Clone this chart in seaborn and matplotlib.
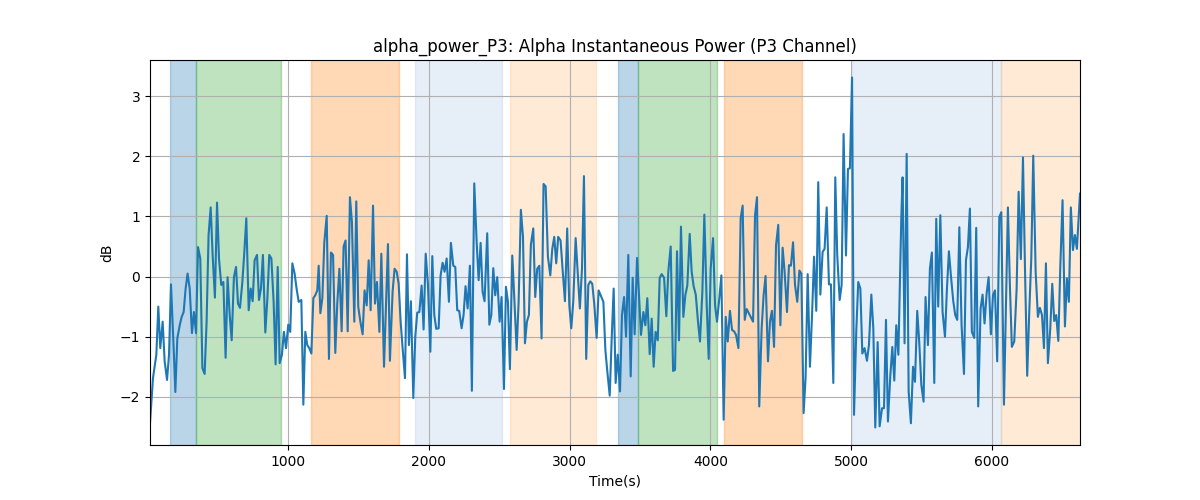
import matplotlib
matplotlib.use("Agg")
import matplotlib.pyplot as plt
import seaborn as sns
import pandas as pd

time_s = [
    20, 41, 65, 79, 93, 110, 124, 141, 155, 169, 186, 200, 214, 231, 245, 259, 273, 287, 302, 318,
    332, 347, 361, 377, 392, 408, 422, 436, 451, 465, 481, 496, 510, 526, 541, 557, 571, 586, 600, 616,
    631, 645, 659, 676, 690, 704, 721, 735, 749, 763, 780, 794, 808, 822, 839, 853, 867, 882, 898, 912,
    927, 941, 957, 971, 986, 1002, 1016, 1031, 1047, 1061, 1076,
    1095, 1109, 1123, 1137, 1151, 1166, 1180, 1194, 1208, 1218, 1230, 1244, 1258, 1275, 1291, 1305, 1320, 1336, 1350, 1365,
    1381, 1395, 1409, 1424, 1440, 1454, 1471, 1485, 1499, 1514, 1530, 1544, 1559, 1573, 1587, 1604, 1618, 1632, 1649, 1663,
    1682, 1710, 1724, 1743, 1757, 1772, 1786, 1800, 1814, 1831, 1845, 1859, 1873, 1890, 1904, 1918, 1933, 1949, 1963, 1978,
    1994, 2011, 2025, 2039, 2053, 2070, 2084, 2098, 2112, 2127, 2143, 2157,
    2174, 2188, 2202, 2216, 2233, 2247, 2261, 2276, 2292, 2306, 2323, 2340, 2354, 2368, 2382, 2396, 2415, 2430, 2444, 2458,
    2472, 2486, 2503, 2517, 2534, 2548, 2562, 2576, 2593, 2607, 2624, 2638, 2654, 2669, 2683, 2697, 2711, 2725, 2742, 2756,
    2770, 2785, 2801, 2815, 2830, 2846, 2863, 2877, 2891, 2905, 2919, 2936, 2950, 2967, 2983, 2998, 3012, 3026, 3043, 3057,
    3073, 3088, 3102, 3118, 3133, 3147, 3161, 3175, 3192, 3206,
    3240, 3254, 3268, 3285, 3299, 3313, 3327, 3342, 3358, 3372, 3387, 3401, 3417, 3434, 3448, 3462, 3479, 3493, 3507, 3524,
    3538, 3552, 3569, 3583, 3597, 3611, 3626, 3640, 3654, 3671, 3687, 3701, 3718, 3735, 3749, 3763, 3777, 3791, 3808, 3822,
    3836, 3853, 3867, 3881, 3896, 3912, 3926, 3943, 3957, 3974, 3988, 4002, 4019, 4033, 4047, 4061, 4078, 4094, 4109, 4123,
    4139, 4154, 4168, 4182, 4199, 4215, 4229, 4244, 4258,
    4303, 4317, 4331, 4347, 4364, 4378, 4392, 4409, 4423, 4437, 4452, 4466, 4482, 4497, 4513, 4527, 4544, 4558, 4572, 4587,
    4601, 4617, 4632, 4646, 4662, 4676, 4691, 4707, 4721, 4736, 4752, 4766, 4781, 4797, 4811, 4826, 4842, 4856, 4873, 4887,
    4901, 4918, 4932, 4946, 4963, 4977, 4991, 5006, 5020, 5036, 5050, 5065, 5079, 5095, 5112, 5126, 5143, 5157, 5171, 5188,
    5202, 5219, 5233, 5247, 5261, 5278, 5292, 5306, 5320, 5335,
    5356, 5365, 5379, 5394, 5408, 5424, 5439, 5453, 5469, 5483, 5498, 5514, 5528, 5545, 5559, 5573, 5590, 5604, 5618, 5633,
    5649, 5666, 5680, 5694, 5708, 5725, 5739, 5753, 5768, 5784, 5801, 5815, 5829, 5843, 5857, 5874, 5888, 5902, 5919, 5933,
    5947, 5962, 5976, 5992, 6007, 6021, 6037, 6052, 6066, 6085, 6099, 6113, 6127, 6141, 6158, 6175, 6189, 6205, 6220, 6234,
    6250, 6265, 6279, 6293, 6310, 6326, 6340, 6355, 6369, 6383, 6397, 6414, 6428, 6442, 6456, 6471, 6485, 6501, 6518, 6532,
    6546, 6560, 6575, 6589, 6603, 6625,
]

power_db = [
    -2.44, -1.69, -1.30, -0.50, -1.19, -0.75, -1.41, -1.72, -1.30, -0.13, -1.08, -1.92, -1.03, -0.81, -0.67, -0.59, -0.20, 0.05, -0.20, -0.94,
    -0.59, -0.94, 0.49, 0.30, -1.52, -1.62, -0.75, 0.69, 1.15, 0.35, -0.35, 1.23, 0.30, -0.14, -0.09, -1.35, -0.01, -0.64, -1.06, -0.01,
    0.16, -0.45, -0.52, -0.09, 0.41, 0.97, -0.56, -0.20, -0.41, 0.27, 0.36, -0.39, -0.20, 0.36, -0.93, -0.39, 0.36, 0.30, -0.42, -1.46,
    0.16, -1.44, -1.30, -0.92, -1.19, -0.80, -0.92, 0.22, 0.05, -0.20, -0.42,
    -0.39, -2.13, -0.92, -1.14, -1.19, -1.28, -0.36, -0.31, -0.23, 0.18, -0.61, -0.36, 0.57, 1.01, -1.37, 0.40, 0.36, -1.27, -0.45, 0.13,
    -0.91, 0.50, 0.60, -0.91, 1.32, 0.91, -0.75, 1.25, -0.50, -0.75, -0.96, -0.23, -0.48, 0.27, -0.56, 1.18, -0.45, -0.09, -0.92, 0.38,
    -1.50, 0.54, -1.40, -0.25, 0.13, 0.08, -0.12, -0.75, -1.19, -1.69, 0.37, -1.14, -0.41, -2.02, -1.00, -0.60, -0.59, -0.15, -0.88, 0.38,
    -0.13, -1.25, 0.34, -0.64, -0.87, -0.86, 0.02, 0.23, 0.08, 0.30, -0.42, 0.56,
    0.18, 0.16, -0.56, -0.57, -0.86, -0.64, -0.16, -0.53, 0.18, -1.90, 1.55, 0.57, -0.06, 0.56, -0.25, -0.41, 0.72, -0.80, -0.64, 0.14,
    -0.31, -0.01, -0.75, -0.34, -1.87, -0.17, -0.42, -1.54, 0.35, -0.34, -1.22, -0.42, 1.11, 0.66, -1.11, -0.75, -0.64, 0.53, 0.80, -0.34,
    0.13, 0.18, -1.03, 1.54, 1.50, 0.33, 0.02, 0.46, 0.66, 0.22, 0.66, 0.60, 0.13, -0.41, 0.80, -0.48, -0.86, -0.42, 0.64, 0.08,
    -0.53, 0.13, 1.67, -1.37, -0.14, -0.08, -0.12, -0.45, -1.02, -0.23,
    -0.42, -1.22, -1.58, -1.98, -1.03, -0.20, -1.77, -1.30, -1.91, -0.64, -0.34, -1.00, 0.36, -1.66, -0.02, -0.96, 0.31, -0.31, -0.97, -0.59,
    -0.81, -0.36, -1.29, -0.70, -1.50, -0.92, -1.06, -0.02, 0.04, -0.02, -0.66, 0.08, 0.50, -1.57, -1.55, 0.42, -1.06, 0.83, -0.67, -0.31,
    -0.15, 0.71, 0.08, -0.16, -0.30, -0.75, -1.08, -0.25, 1.03, -0.48, -1.37, 0.13, 0.64, -0.48, -0.75, -0.42, 0.02, -2.38, -0.67, -1.08,
    -0.57, -0.89, -0.91, -0.97, -1.19, 0.97, 1.18, -0.72, -0.54,
    -0.75, 1.02, 1.32, -2.16, -0.86, -0.31, 0.01, -1.41, -0.75, -0.57, -1.17, 0.52, 0.86, -0.81, 0.48, 0.08, -0.59, 0.19, 0.18, 0.57,
    -0.14, -0.42, 0.10, 0.05, -2.27, -1.69, 0.04, -1.50, -0.70, 0.33, -0.57, 1.57, -0.30, 0.41, 0.46, 1.15, -0.13, -0.13, -1.77, 1.65,
    0.35, -0.39, -0.14, 2.37, 0.35, 1.79, 1.80, 3.31, -2.30, -0.92, -0.09, -0.20, -1.28, -1.19, -1.40, -1.14, -0.30, -0.86, -2.51, -1.09,
    -2.49, -2.19, -2.19, -0.72, -2.41, -1.64, -1.17, -1.73, -0.81, -1.30,
    0.99, 1.65, -1.11, 2.04, -1.91, -2.44, -1.50, -1.75, -0.57, -1.08, -1.80, -2.08, -0.34, -1.14, 0.13, 0.40, -1.77, 0.96, -0.50, 1.02,
    -0.59, -1.00, -0.20, 0.42, 0.02, -0.41, -0.64, -0.72, 0.82, -0.81, -1.62, 0.27, 0.49, 1.13, -0.92, -1.02, 0.81, -2.16, -0.53, -0.30,
    -0.78, -0.28, -0.01, -0.96, -0.31, -0.23, -1.41, 0.99, 1.07, -2.13, -0.53, 1.15, -0.14, -1.17, -1.08, -0.20, 1.41, 0.29, 1.98, 0.16,
    -1.65, -0.56, 0.30, 2.01, 0.08, -0.67, -0.52, -0.64, -1.19, 0.22, -1.44, -0.86, -0.12, -0.74, -0.64, -1.07, 0.16, 1.27, -0.83, -0.03,
    -0.42, 1.15, 0.44, 0.69, 0.46, 1.38,
]

span_starts = [162, 349, 1161, 1902, 2576, 3344, 3488, 4097, 5003, 6066]
span_ends = [344, 948, 1786, 2517, 3185, 3488, 4045, 4648, 6066, 6700]
span_colors = ["#1f77b4", "#2ca02c", "#ff7f0e", "#aec7e8", "#ffbb78",
               "#1f77b4", "#2ca02c", "#ff7f0e", "#aec7e8", "#ffbb78"]

df = pd.DataFrame({"Time(s)": time_s, "dB": power_db})

fig, ax = plt.subplots(figsize=(12, 5), dpi=100)
for s, e, c in zip(span_starts, span_ends, span_colors):
    ax.axvspan(s, e, color=c, alpha=0.3)

sns.lineplot(data=df, x="Time(s)", y="dB", ax=ax, color="#1f77b4",
             linewidth=1.5, estimator=None, sort=True)
ax.grid(True)
ax.set_xlim(min(time_s), max(time_s))
ax.set_title("alpha_power_P3: Alpha Instantaneous Power (P3 Channel)")
ax.set_xlabel("Time(s)")
ax.set_ylabel("dB")

fig.savefig("out.png", dpi=100)
